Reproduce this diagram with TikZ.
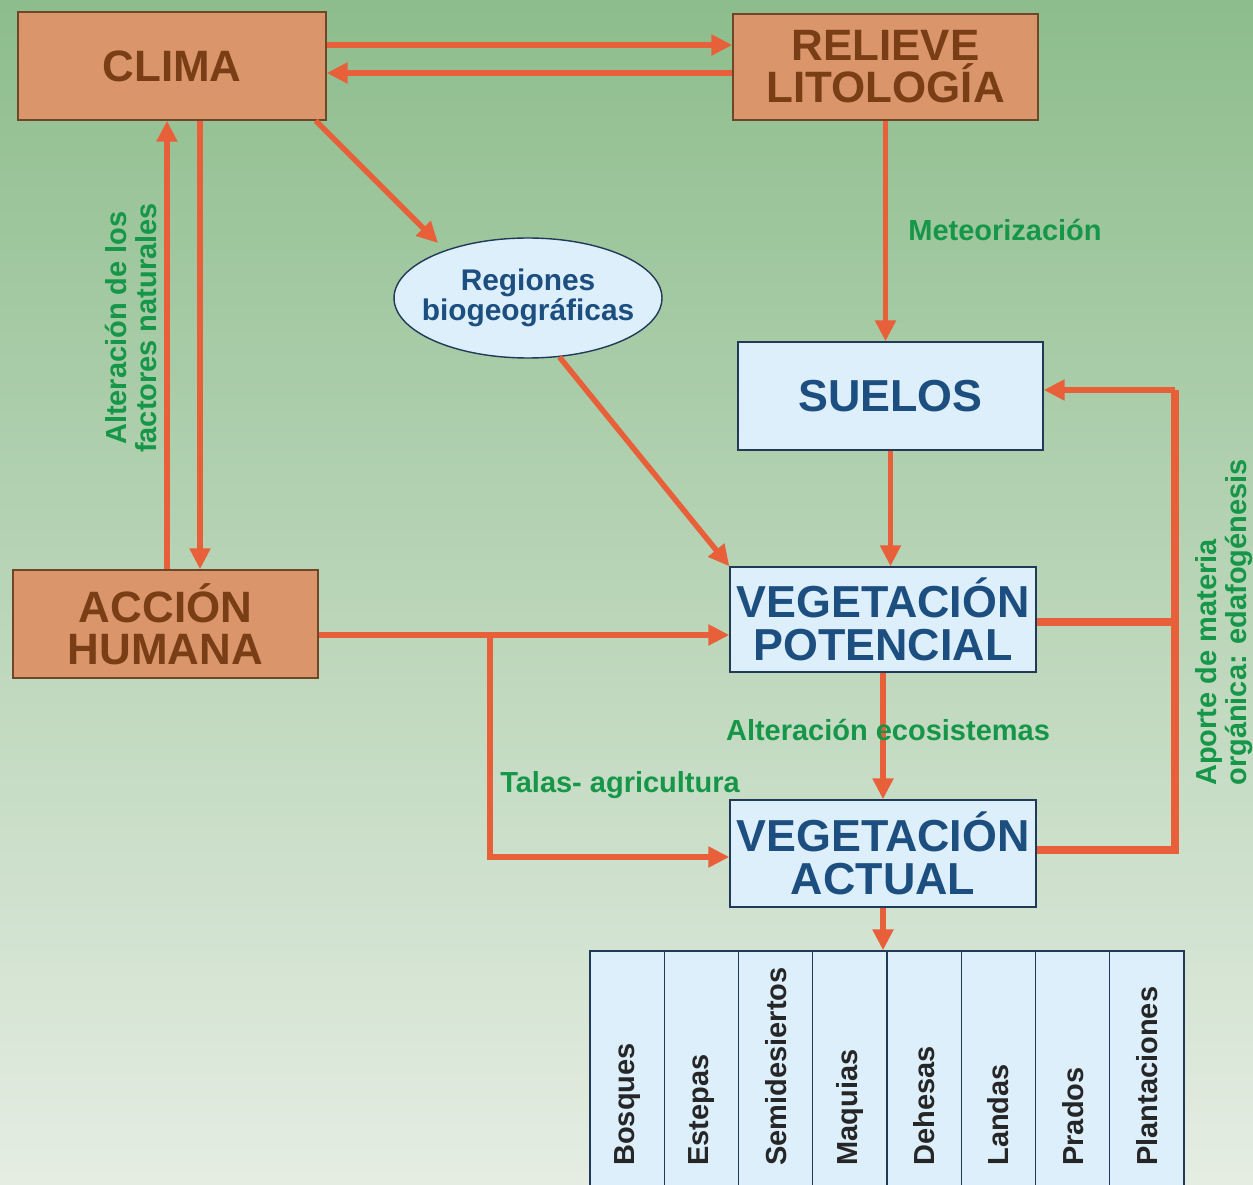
\documentclass[tikz,border=0pt]{standalone}
\usepackage{fontspec}
\setmainfont{Liberation Sans}
\usetikzlibrary{arrows.meta, positioning, shapes.geometric}

\definecolor{flecha}{RGB}{232,96,58}
\definecolor{ocre}{RGB}{218,150,106}
\definecolor{ocreborde}{RGB}{112,70,40}
\definecolor{ocretexto}{RGB}{122,62,22}
\definecolor{celeste}{RGB}{221,239,251}
\definecolor{azulborde}{RGB}{32,58,88}
\definecolor{azultexto}{RGB}{28,78,128}
\definecolor{verdetexto}{RGB}{22,150,72}
\definecolor{fondoalto}{RGB}{141,189,140}
\definecolor{fondobajo}{RGB}{229,237,227}

\begin{document}
\begin{tikzpicture}[
  x=0.02cm, y=-0.02cm,
  factor/.style={
    rectangle, draw=ocreborde, fill=ocre, line width=0.8pt,
    text=ocretexto, inner sep=0pt, align=center,
    font=\bfseries\fontsize{25}{24}\selectfont
  },
  veg/.style={
    rectangle, draw=azulborde, fill=celeste, line width=0.8pt,
    text=azultexto, inner sep=0pt, align=center,
    font=\bfseries\fontsize{25.5}{24.5}\selectfont
  },
  columna/.style={
    rectangle, draw=azulborde, fill=celeste, line width=0.8pt,
    minimum width=1.485cm, minimum height=4.88cm, inner sep=0pt
  },
  tipotexto/.style={
    rotate=90, anchor=west, inner sep=0pt, text=black!85,
    font=\bfseries\fontsize{16.5}{17}\selectfont
  },
  arrow/.style={-{Triangle[length=0.42cm, width=0.4cm]}, draw=flecha, line width=0.11cm},
  rama/.style={draw=flecha, line width=0.15cm},
  etiqueta/.style={font=\bfseries\fontsize{16.5}{17}\selectfont, text=verdetexto, align=center, inner sep=0pt}
]

% Fondo
\shade[top color=fondoalto, bottom color=fondobajo] (0,0) rectangle (1253,1185);
\useasboundingbox (0,0) rectangle (1253,1185);

% Factores
\node[factor, minimum width=6.16cm, minimum height=2.16cm] (clima) at (172,66) {CLIMA};
\node[factor, minimum width=6.1cm, minimum height=2.12cm] (relieve) at (885.5,67) {RELIEVE\\LITOLOGÍA};
\node[factor, minimum width=6.1cm, minimum height=2.16cm] (accion) at (165.5,624) {ACCIÓN\\HUMANA};

% Regiones
\node[ellipse, draw=azulborde, fill=celeste, line width=0.8pt,
      minimum width=5.36cm, minimum height=2.4cm, inner sep=0pt] (regiones) at (528,298) {};
\node[text=azultexto, align=center, inner sep=0pt,
      font=\bfseries\fontsize{17}{15}\selectfont] (regtexto) at (regiones) {Regiones\\biogeográficas};

% Suelos y vegetacion
\node[veg, minimum width=6.1cm, minimum height=2.16cm] (suelos) at (890.5,396) {SUELOS};
\node[veg, minimum width=6.12cm, minimum height=2.1cm] (vpot) at (883,619.5) {VEGETACIÓN\\POTENCIAL};
\node[veg, minimum width=6.12cm, minimum height=2.14cm] (vact) at (883,853.5) {VEGETACIÓN\\ACTUAL};

% Tipos de vegetacion actual
\foreach \tipo [count=\i] in {Bosques, Estepas, Semidesiertos, Maquias, Dehesas, Landas, Prados, Plantaciones}{
  \node[columna] (col\i) at ({590+74.25*(\i-0.5)}, 1073) {};
  \node[tipotexto] (tipo\i) at ({590+74.25*(\i-0.5)}, 1166) {\tipo};
}

% Flechas
\draw[arrow] ([yshift=0.42cm]clima.east) -- ([yshift=0.42cm]clima.east -| relieve.west);
\draw[arrow] ([yshift=-0.12cm]relieve.west) -- ([yshift=-0.12cm]relieve.west -| clima.east);
\draw[arrow, shorten >=0.2cm] ([xshift=-0.22cm]clima.south east) -- (regiones.150);
\draw[arrow] (relieve.south) -- (relieve.south |- suelos.north);
\draw[arrow] (regiones.-62) -- (vpot.north west);
\draw[arrow] (suelos.south) -- (suelos.south |- vpot.north);
\draw[arrow] ([xshift=0.03cm]accion.north) -- ([xshift=0.03cm]accion.north |- clima.south);
\draw[arrow] ([xshift=0.56cm]clima.south) -- ([xshift=0.56cm]clima.south |- accion.north);
\draw[arrow] ([yshift=-0.22cm]accion.east) -- ([yshift=-0.22cm]accion.east -| vpot.west);
\coordinate (tala) at (490,635);
\draw[arrow] (tala) |- ([yshift=-0.07cm]vact.west);
\draw[arrow] (vpot.south) -- (vact.north);
\draw[arrow] (vact.south) -- (vact.south |- col1.north);

% Aporte de materia organica
\coordinate (colector) at (1175,390);
\draw[rama] ([yshift=-0.05cm]vpot.east) -- ([yshift=-0.05cm]vpot.east -| colector);
\draw[rama] ([yshift=0.07cm]vact.east) -| (colector);
\draw[arrow] (colector) -- (colector -| suelos.east);

% Etiquetas
\node[etiqueta] (meteo) at (1005,230) {Meteorización};
\node[etiqueta] (altnat) at (131,328) [rotate=90] {Alteración de los\\factores naturales};
\node[etiqueta] (alteco) at (888,730) {Alteración ecosistemas};
\node[etiqueta] (talas) at (620,785) {Talas- agricultura};
\node[etiqueta, align=left, anchor=west] (aporte) at (1224,786) [rotate=90] {Aporte de materia\\orgánica: edafogénesis};

\end{tikzpicture}
\end{document}
